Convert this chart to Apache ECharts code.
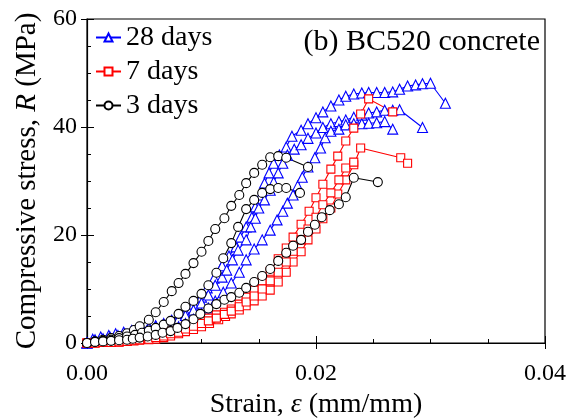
<!DOCTYPE html>
<html>
<head>
<meta charset="utf-8">
<script src="https://cdn.jsdelivr.net/npm/echarts@6/dist/echarts.min.js"></script>
<style>
  html, body { margin: 0; padding: 0; background: #fff; }
  #chart { width: 568px; height: 418px; }
</style>
</head>
<body>
<div id="chart"></div>
<script>
// strain (mm/mm), stress (MPa)
const d28a = [[0,0],[0.0005,0.7],[0.0012,1.1],[0.0019,1.4],[0.0025,1.7],[0.0032,2.0],[0.0039,2.3],[0.0046,2.7],[0.0054,3.0],[0.0060,3.2],[0.0067,3.6],[0.0074,4.2],[0.0080,4.8],[0.0086,5.7],[0.0093,7.2],[0.0100,8.5],[0.0105,10.2],[0.0111,12.0],[0.0118,14.3],[0.0124,16.1],[0.0130,17.8],[0.0134,19.6],[0.0139,21.5],[0.0144,23.3],[0.0147,25.2],[0.0152,27.4],[0.0155,29.6],[0.0159,31.5],[0.0163,33.3],[0.0168,34.8],[0.0174,36.3],[0.0179,38.3],[0.0187,39.4],[0.0193,40.6],[0.0200,41.7],[0.0206,42.8],[0.0213,43.9],[0.0220,45.0],[0.0226,45.7],[0.0233,46.1],[0.0240,46.3],[0.0246,46.4],[0.0253,46.4],[0.0260,46.4],[0.0267,46.5],[0.0273,47.0],[0.0280,47.6],[0.0287,47.8],[0.0293,48.0],[0.0300,48.1],[0.0313,44.4]];
const d28b = [[0,0],[0.0007,0.6],[0.0014,0.8],[0.0020,1.1],[0.0027,1.4],[0.0033,1.7],[0.0040,1.9],[0.0046,2.5],[0.0054,2.8],[0.0060,3.1],[0.0067,3.3],[0.0073,3.8],[0.0080,4.4],[0.0086,5.1],[0.0093,6.1],[0.0100,7.4],[0.0106,8.9],[0.0112,10.7],[0.0118,12.2],[0.0122,13.5],[0.0127,15.4],[0.0132,17.2],[0.0139,19.1],[0.0143,21.5],[0.0147,23.1],[0.0150,25.0],[0.0155,26.5],[0.0160,28.3],[0.0163,29.8],[0.0167,31.5],[0.0171,33.3],[0.0175,34.8],[0.0181,35.9],[0.0187,36.7],[0.0193,37.9],[0.0200,38.9],[0.0206,39.9],[0.0213,40.6],[0.0220,41.0],[0.0226,41.3],[0.0233,41.8],[0.0240,42.2],[0.0246,42.6],[0.0253,42.8],[0.0260,43.1],[0.0267,43.1],[0.0273,43.2],[0.0293,39.9]];
const d28c = [[0,0],[0.0007,0.3],[0.0014,0.5],[0.0021,0.6],[0.0027,0.8],[0.0033,1.0],[0.0040,1.2],[0.0046,1.6],[0.0054,1.8],[0.0060,1.9],[0.0067,2.2],[0.0073,2.5],[0.0080,3.0],[0.0086,3.6],[0.0093,4.4],[0.0100,5.4],[0.0106,6.5],[0.0112,7.8],[0.0119,9.4],[0.0126,11.1],[0.0133,13.1],[0.0139,15.4],[0.0146,17.4],[0.0153,19.1],[0.0160,20.9],[0.0166,22.8],[0.0171,24.4],[0.0175,25.9],[0.0180,27.4],[0.0184,29.1],[0.0188,30.7],[0.0193,32.6],[0.0199,34.3],[0.0204,36.1],[0.0208,38.0],[0.0213,39.2],[0.0220,39.6],[0.0226,40.4],[0.0233,40.6],[0.0240,40.6],[0.0246,40.7],[0.0253,40.8],[0.0260,41.0],[0.0267,39.6]];

const d7a = [[0,0],[0.0007,0.0],[0.0014,0.1],[0.0021,0.1],[0.0028,0.2],[0.0035,0.3],[0.0041,0.5],[0.0046,0.9],[0.0054,1.2],[0.0060,1.5],[0.0067,1.9],[0.0073,2.2],[0.0080,2.6],[0.0086,3.1],[0.0093,3.6],[0.0100,4.2],[0.0106,4.6],[0.0113,5.2],[0.0120,5.7],[0.0126,6.3],[0.0133,7.2],[0.0139,8.5],[0.0146,9.8],[0.0153,11.5],[0.0160,13.3],[0.0167,15.6],[0.0174,17.6],[0.0180,19.6],[0.0187,22.0],[0.0194,24.4],[0.0200,26.9],[0.0206,29.4],[0.0213,32.2],[0.0219,34.6],[0.0226,37.4],[0.0233,39.8],[0.0239,42.4],[0.0246,45.2],[0.0267,42.8]];
const d7b = [[0,0],[0.0007,0.0],[0.0014,0.1],[0.0021,0.1],[0.0028,0.2],[0.0035,0.3],[0.0041,0.4],[0.0046,0.5],[0.0054,0.6],[0.0060,0.7],[0.0067,1.0],[0.0073,1.3],[0.0080,1.7],[0.0086,2.1],[0.0093,2.5],[0.0100,3.0],[0.0107,3.6],[0.0115,4.3],[0.0121,4.9],[0.0126,5.4],[0.0133,6.1],[0.0139,6.9],[0.0146,7.8],[0.0153,8.7],[0.0160,9.8],[0.0167,11.3],[0.0174,13.1],[0.0180,15.0],[0.0187,16.9],[0.0193,19.1],[0.0200,21.1],[0.0206,23.0],[0.0213,25.0],[0.0219,27.6],[0.0226,30.2],[0.0233,33.0],[0.0239,36.1],[0.0274,34.3],[0.0280,33.3]];
const d7c = [[0,0],[0.0007,0.0],[0.0014,0.1],[0.0021,0.1],[0.0028,0.2],[0.0035,0.3],[0.0041,0.5],[0.0046,0.6],[0.0054,0.7],[0.0060,1.0],[0.0067,1.3],[0.0073,1.7],[0.0080,2.0],[0.0086,2.6],[0.0093,3.1],[0.0100,3.6],[0.0106,4.1],[0.0113,4.6],[0.0120,5.3],[0.0126,5.9],[0.0133,6.7],[0.0139,7.6],[0.0146,8.7],[0.0153,10.0],[0.0160,11.5],[0.0167,13.1],[0.0174,15.0],[0.0180,17.0],[0.0187,19.1],[0.0193,21.1],[0.0200,23.3],[0.0206,25.6],[0.0213,27.8],[0.0220,30.2],[0.0226,32.4],[0.0233,33.5]];

const d3a = [[0,0],[0.0007,0.3],[0.0014,0.6],[0.0021,0.9],[0.0028,1.3],[0.0035,1.8],[0.0041,2.4],[0.0046,3.1],[0.0054,4.3],[0.0060,5.7],[0.0067,7.6],[0.0074,9.6],[0.0080,11.1],[0.0086,12.8],[0.0093,14.8],[0.0100,16.9],[0.0106,18.9],[0.0112,21.1],[0.0120,23.1],[0.0126,25.4],[0.0133,27.4],[0.0139,29.6],[0.0146,31.5],[0.0153,33.0],[0.0160,34.4],[0.0167,34.6],[0.0174,34.3],[0.0193,32.6]];
const d3b = [[0,0],[0.0007,0.2],[0.0014,0.4],[0.0021,0.6],[0.0028,0.9],[0.0035,1.2],[0.0042,1.5],[0.0048,1.9],[0.0054,2.3],[0.0060,2.8],[0.0067,3.4],[0.0073,4.1],[0.0080,5.4],[0.0086,6.7],[0.0093,7.8],[0.0100,9.1],[0.0106,10.7],[0.0113,13.0],[0.0119,15.7],[0.0126,18.5],[0.0132,21.5],[0.0139,24.8],[0.0146,26.5],[0.0153,27.8],[0.0160,28.5],[0.0167,28.7],[0.0174,28.7],[0.0186,27.8]];
const d3c = [[0,0],[0.0007,0.2],[0.0014,0.3],[0.0021,0.4],[0.0028,0.5],[0.0035,0.6],[0.0040,0.8],[0.0046,1.0],[0.0053,1.2],[0.0060,1.5],[0.0066,1.9],[0.0073,2.2],[0.0079,2.8],[0.0086,3.5],[0.0093,4.4],[0.0099,5.4],[0.0106,6.4],[0.0113,7.2],[0.0120,8.0],[0.0126,8.5],[0.0133,9.3],[0.0139,10.2],[0.0146,11.3],[0.0153,12.4],[0.0160,13.7],[0.0167,15.2],[0.0174,16.7],[0.0180,18.0],[0.0187,19.1],[0.0193,20.6],[0.0199,21.9],[0.0205,23.3],[0.0212,24.6],[0.0220,25.7],[0.0226,27.0],[0.0233,30.6],[0.0254,29.8]];

const xTicks = [0, 0.02, 0.04];
const yTicks = [0, 20, 40, 60];
const groups = [
  { name: "28 days", color: "#0000ff", symbol: "triangle", size: 10, sets: [d28a, d28b, d28c] },
  { name: "7 days", color: "#ff0000", symbol: "rect", size: 8, sets: [d7a, d7b, d7c] },
  { name: "3 days", color: "#000000", symbol: "circle", size: 9, sets: [d3a, d3b, d3c] },
];

const font = "Liberation Serif";
const chart = echarts.init(document.getElementById("chart"));

const series = [];
groups.forEach((g) => {
  g.sets.forEach((d) => {
    series.push({
      name: g.name,
      type: "line",
      data: d,
      symbol: g.symbol,
      symbolSize: g.size,
      showAllSymbol: true,
      lineStyle: { color: g.color, width: 1.1 },
      itemStyle: { color: "#fff", borderColor: g.color, borderWidth: 1.1 },
      emphasis: { disabled: true },
    });
  });
});

const nameStyle = (size) => ({
  fontFamily: font, fontSize: size, color: "#000",
  rich: { i: { fontFamily: font, fontSize: size, fontStyle: "italic", color: "#000" } },
});

// main axes carry labels and inward ticks; twin axes add the outward half of the major ticks
const baseX = {
  type: "value",
  min: xTicks[0],
  max: xTicks[xTicks.length - 1],
  interval: xTicks[1] - xTicks[0],
  splitLine: { show: false },
};
const baseY = {
  type: "value",
  min: yTicks[0],
  max: yTicks[yTicks.length - 1],
  interval: yTicks[1] - yTicks[0],
  splitLine: { show: false },
};

chart.setOption({
  animation: false,
  grid: {
    left: 87, right: 23, top: 19, bottom: 75,
    outerBoundsMode: "none",
    show: true, borderColor: "#000", borderWidth: 1.2,
  },
  legend: {
    data: groups.map((g) => g.name),
    orient: "vertical",
    left: 90,
    top: 18,
    itemWidth: 25,
    itemHeight: 10,
    itemGap: 5,
    textStyle: { fontFamily: font, fontSize: 28, color: "#000", lineHeight: 29 },
  },
  xAxis: [
    Object.assign({}, baseX, {
      name: "Strain, {i|ε} (mm/mm)",
      nameLocation: "middle",
      nameGap: 47,
      nameTextStyle: nameStyle(28),
      axisLine: { lineStyle: { color: "#000", width: 1.2 } },
      axisTick: { inside: true, length: 7, lineStyle: { color: "#000" } },
      minorTick: { show: true, splitNumber: 4, length: 4, lineStyle: { color: "#000" } },
      axisLabel: { fontFamily: font, fontSize: 24, color: "#000", margin: 19, formatter: (v) => v.toFixed(2) },
    }),
    Object.assign({}, baseX, {
      position: "bottom",
      axisLine: { show: false },
      axisTick: { inside: false, length: 6, lineStyle: { color: "#000" } },
      axisLabel: { show: false },
    }),
  ],
  yAxis: [
    Object.assign({}, baseY, {
      name: "Compressive stress, {i|R} (MPa)",
      nameLocation: "middle",
      nameGap: 45,
      nameTextStyle: nameStyle(29),
      axisLine: { lineStyle: { color: "#000", width: 1.2 } },
      axisTick: { inside: true, length: 7, lineStyle: { color: "#000" } },
      minorTick: { show: true, splitNumber: 4, length: 4, lineStyle: { color: "#000" } },
      axisLabel: { fontFamily: font, fontSize: 24, color: "#000", margin: 10 },
    }),
    Object.assign({}, baseY, {
      position: "left",
      axisLine: { show: false },
      axisTick: { inside: false, length: 6, lineStyle: { color: "#000" } },
      axisLabel: { show: false },
    }),
  ],
  graphic: [
    {
      type: "text",
      right: 28,
      top: 27,
      style: { text: "(b) BC520 concrete", font: "30px 'Liberation Serif'", fill: "#000" },
    },
  ],
  series: series,
});
</script>
</body>
</html>
